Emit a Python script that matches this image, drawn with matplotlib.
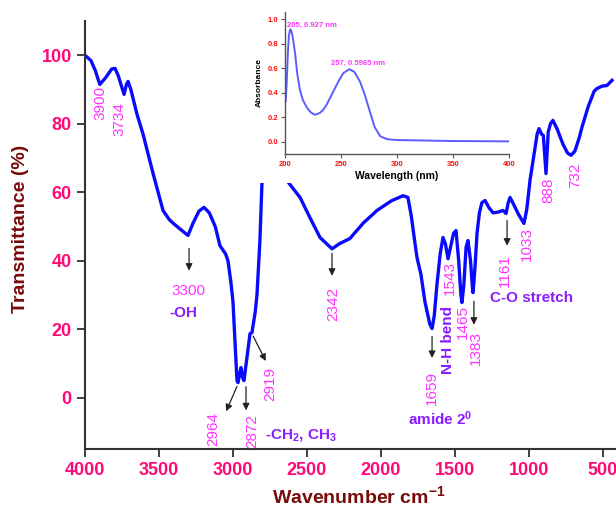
import matplotlib.pyplot as plt
from matplotlib.patches import Rectangle

plt.rcParams['font.family'] = ['Liberation Sans', 'DejaVu Sans']
plt.rcParams['mathtext.default'] = 'regular'

# FTIR spectrum: wavenumber (cm-1) and transmittance (%)
wavenumber = [4000, 3960, 3930, 3900, 3860, 3820, 3797, 3775, 3736, 3720, 3709, 3690,
              3650, 3608, 3540, 3473, 3430, 3405, 3350, 3304, 3270, 3230, 3196, 3160,
              3120, 3088, 3050, 3034, 3015, 3000, 2985, 2973, 2966, 2955, 2946, 2936,
              2926, 2905, 2885, 2872, 2850, 2838, 2818, 2804, 2750, 2680, 2628, 2547,
              2480, 2412, 2331, 2280, 2210, 2120, 2027, 1930, 1851, 1818, 1795, 1770,
              1757, 1730, 1703, 1670, 1655, 1640, 1622, 1600, 1581, 1565, 1547, 1530,
              1510, 1493, 1475, 1460, 1453, 1440, 1425, 1412, 1395, 1380, 1378, 1365,
              1351, 1335, 1318, 1297, 1270, 1243, 1210, 1176, 1155, 1140, 1128, 1110,
              1070, 1034, 1015, 993, 959, 945, 932, 915, 903, 885, 870, 855, 838, 810,
              770, 740, 716, 690, 660, 642, 600, 560, 541, 507, 473, 439]
transmittance = [100, 98.5, 95.5, 91.5, 93.5, 96, 96.2, 94, 88.6, 91.5, 92.4, 90,
                 83, 77, 65.5, 54.7, 52, 51, 49, 47.4, 51, 54.5, 55.6, 54,
                 50, 44.4, 42, 40, 34, 28, 15, 5, 4.4, 7, 8.8, 6,
                 5, 12, 18.7, 19, 25, 30, 46, 63, 88, 85, 63, 58.5,
                 52.6, 46.8, 43.5, 45, 46.5, 51, 54.7, 57.5, 59, 58.5, 53, 45,
                 41, 36, 28, 21.5, 20.2, 24, 33, 42, 46.8, 45, 40.6, 44,
                 48, 48.8, 40, 30, 27.8, 33, 44, 45.9, 40, 31, 30.7, 38,
                 48, 54, 57, 57.6, 55.5, 54, 54.2, 54.7, 53.8, 57, 58.5, 57,
                 53.5, 50.9, 55, 63.5, 73, 77, 78.6, 77, 76.6, 65.5, 77.6, 80, 81, 78.5,
                 74, 71.5, 70.8, 72, 76, 79, 85, 89.5, 90.3, 91, 91.2, 92.7]

# UV-Vis inset: wavelength (nm) and absorbance
wavelength = [200.6, 201.5, 202.5, 203.5, 204.5, 205.5, 207, 209, 211, 213.4, 216,
              219.4, 223, 226.8, 231, 234, 237, 242, 247.5, 252, 257.4, 262, 267,
              271, 276, 280, 285, 290, 293.8, 300, 317.5, 350, 400]
absorbance = [0.33, 0.48, 0.72, 0.87, 0.918, 0.91, 0.85, 0.72, 0.55, 0.42, 0.34,
              0.28, 0.24, 0.22, 0.235, 0.26, 0.3, 0.39, 0.49, 0.56, 0.593, 0.57, 0.49,
              0.39, 0.24, 0.12, 0.045, 0.025, 0.018, 0.014, 0.011, 0.006, 0.003]

# peak labels: text, x, y
peak_labels = [("3900", 3899, 86), ("3734", 3764, 81.5), ("2964", 3135, -9),
               ("2872", 2872, -9.6), ("2919", 2750, 4), ("2342", 2324, 27.5),
               ("1659", 1655, 2.9), ("1543", 1534, 35), ("1465", 1446, 22),
               ("1383", 1358, 14.6), ("1161", 1162, 37), ("1033", 1013, 45),
               ("888", 871, 60.5), ("732", 689, 65)]
# arrows: (x start, y start, x end, y end)
arrows = [(3297, 44.4, 3297, 36.3), (2966, 4, 3054, -4.7), (2912, 4, 2912, -4.5),
          (2872, 18.7, 2770, 10), (2331, 43, 2331, 34.8), (1655, 18.7, 1655, 10.8),
          (1372, 29, 1372, 20.5), (1148, 52.6, 1148, 43.6)]

pink = '#ff0a78'
magenta = '#ff33ff'
purple = '#8a1cff'
maroon = '#780a0a'

fig = plt.figure(figsize=(6.16, 5.15), dpi=100)
ax = fig.add_axes([0.138, 0.128, 0.862, 0.831])
ax.plot(wavenumber, transmittance, color='#0a0aff', lw=2.4)
ax.set_xlim(4000, 412)
ax.set_ylim(-15, 110)
ax.set_xticks(range(4000, 499, -500))
ax.set_yticks(range(0, 101, 20))
for s in ['top', 'right']:
    ax.spines[s].set_visible(False)
for s in ['left', 'bottom']:
    ax.spines[s].set_linewidth(1.5)
    ax.spines[s].set_color('#333333')
ax.tick_params(direction='out', length=6, width=1.3, color='#333333',
               labelcolor=pink, labelsize=13)
for lbl in ax.get_xticklabels() + ax.get_yticklabels():
    lbl.set_fontweight('bold')
ax.set_xlabel('Wavenumber cm$^{-1}$', fontsize=14, fontweight='bold', color=maroon)
ax.xaxis.set_label_coords(0.515, -0.085)
ax.set_ylabel('Transmittance (%)', fontsize=14, fontweight='bold', color=maroon)
ax.yaxis.set_label_coords(-0.105, 0.514)

for txt, x, y in peak_labels:
    ax.text(x, y, txt, rotation=90, ha='center', va='center', fontsize=11, color=magenta)
ax.text(3304, 31.3, '3300', ha='center', va='center', fontsize=11, color=magenta)

for x0, y0, x1, y1 in arrows:
    ax.annotate('', xy=(x1, y1), xytext=(x0, y0),
                arrowprops=dict(arrowstyle='-|>', color='#222222', lw=0.9, mutation_scale=10))

ax.text(3338, 24.8, '-OH', ha='center', va='center', fontsize=11, fontweight='bold', color=purple)
ax.text(2784, -11, '-CH$_2$, CH$_3$', ha='left', va='center', fontsize=11, fontweight='bold', color=purple)
ax.text(1547, 17, 'N-H bend', rotation=90, ha='center', va='center', fontsize=11,
        fontweight='bold', color=purple)
ax.text(1601, -6, 'amide 2$^0$', ha='center', va='center', fontsize=11, fontweight='bold', color=purple)
ax.text(980, 29, 'C-O stretch', ha='center', va='center', fontsize=11, fontweight='bold', color=purple)

# white panel behind the inset
fig.add_artist(Rectangle((0.317, 0.645), 0.519, 0.355, transform=fig.transFigure,
                         facecolor='white', edgecolor='none', zorder=0.5))

ins = fig.add_axes([0.4627, 0.701, 0.3636, 0.2757], zorder=1)
ins.plot(wavelength, absorbance, color='#5c5cff', lw=1.4)
ins.set_xlim(200, 400)
ins.set_ylim(-0.1, 1.06)
ins.set_xticks([200, 250, 300, 350, 400])
ins.set_yticks([0.0, 0.2, 0.4, 0.6, 0.8, 1.0])
ins.set_yticklabels(['0.0', '0.2', '0.4', '0.6', '0.8', '1.0'])
for s in ['top', 'right']:
    ins.spines[s].set_visible(False)
for s in ['left', 'bottom']:
    ins.spines[s].set_linewidth(1.0)
    ins.spines[s].set_color('#555555')
ins.tick_params(direction='out', length=3, width=0.8, color='#555555',
                labelcolor='#ff1010', labelsize=5.5, pad=2)
for lbl in ins.get_xticklabels() + ins.get_yticklabels():
    lbl.set_fontweight('bold')
ins.set_xlabel('Wavelength (nm)', fontsize=7.5, fontweight='bold', labelpad=2)
ins.set_ylabel('Absorbance', fontsize=6, fontweight='bold', labelpad=3)
ins.text(202, 0.95, '205, 0.927 nm', fontsize=5.5, fontweight='bold', color=magenta, va='center')
ins.text(240.8, 0.64, '257, 0.5965 nm', fontsize=5.5, fontweight='bold', color=magenta, va='center')

fig.savefig('out.png', dpi=100)
